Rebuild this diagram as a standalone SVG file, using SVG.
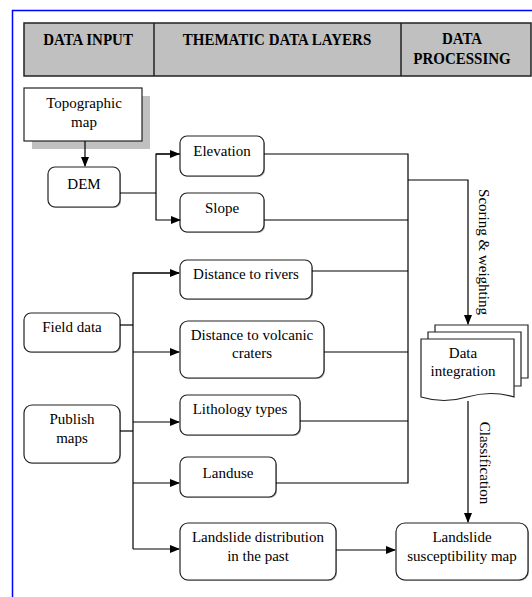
<svg xmlns="http://www.w3.org/2000/svg" width="532" height="597" viewBox="0 0 532 597">
<style>
.t{font-family:"Liberation Serif","Times New Roman",serif;font-size:15px;fill:#000;text-anchor:middle}
.h{font-family:"Liberation Serif","Times New Roman",serif;font-size:15px;font-weight:bold;fill:#000;text-anchor:middle}
.box{fill:#fff;stroke:#222;stroke-width:1.2}
.sh{fill:#b0b0b0}
.ln{fill:none;stroke:#000;stroke-width:1.2}
</style>
<defs>
<marker id="ah" markerWidth="10" markerHeight="8" refX="9" refY="4" orient="auto" markerUnits="userSpaceOnUse">
<path d="M0,0 L10,4 L0,8 Z" fill="#000"/>
</marker>
</defs>
<rect x="0" y="0" width="532" height="597" fill="#fff"/>
<path d="M12.5,597 V10.5 H532" fill="none" stroke="#0000ff" stroke-width="1.5"/>

<g id="header">
<rect x="24" y="23" width="507" height="53" fill="#c0c0c0" stroke="#222" stroke-width="1.5"/>
<line x1="154" y1="23" x2="154" y2="76" stroke="#222" stroke-width="1.5"/>
<line x1="401" y1="23" x2="401" y2="76" stroke="#222" stroke-width="1.5"/>
<text class="h" transform="translate(88,45) scale(1,1.12)">DATA INPUT</text>
<text class="h" transform="translate(277,45) scale(1,1.12)">THEMATIC DATA LAYERS</text>
<text class="h" transform="translate(462,44) scale(1,1.12)">DATA</text>
<text class="h" transform="translate(462,64) scale(1,1.12)">PROCESSING</text>
</g>

<g id="topographic">
<rect x="32" y="96" width="118" height="53" fill="#c0c0c0"/>
<rect x="24" y="88" width="118" height="53" fill="#fff" stroke="#222" stroke-width="1.2"/>
<text class="t" x="84" y="108">Topographic</text>
<text class="t" x="84" y="127">map</text>
</g>

<g id="dem">
<rect class="sh" x="49" y="168" width="72" height="40" rx="7"/>
<rect class="box" x="48" y="167" width="72" height="40" rx="7"/>
<text class="t" x="84" y="189">DEM</text>
</g>

<g id="elevation">
<rect class="sh" x="181" y="137" width="84" height="40" rx="7"/>
<rect class="box" x="180" y="136" width="84" height="40" rx="7"/>
<text class="t" x="222" y="156">Elevation</text>
</g>

<g id="slope">
<rect class="sh" x="181" y="194" width="84" height="39" rx="7"/>
<rect class="box" x="180" y="193" width="84" height="39" rx="7"/>
<text class="t" x="222" y="213">Slope</text>
</g>

<g id="rivers">
<rect class="sh" x="181" y="261" width="132" height="39" rx="7"/>
<rect class="box" x="180" y="260" width="132" height="39" rx="7"/>
<text class="t" x="246" y="279">Distance to rivers</text>
</g>

<g id="volcanic">
<rect class="sh" x="181" y="322" width="144" height="57" rx="8"/>
<rect class="box" x="180" y="321" width="144" height="57" rx="8"/>
<text class="t" x="252" y="340">Distance to volcanic</text>
<text class="t" x="252" y="358">craters</text>
</g>

<g id="lithology">
<rect class="sh" x="181" y="396" width="120" height="40" rx="7"/>
<rect class="box" x="180" y="395" width="120" height="40" rx="7"/>
<text class="t" x="240" y="414">Lithology types</text>
</g>

<g id="landuse">
<rect class="sh" x="181" y="458" width="96" height="40" rx="7"/>
<rect class="box" x="180" y="457" width="96" height="40" rx="7"/>
<text class="t" x="228" y="478">Landuse</text>
</g>

<g id="landslide-dist">
<rect class="sh" x="181" y="524" width="156" height="57" rx="8"/>
<rect class="box" x="180" y="523" width="156" height="57" rx="8"/>
<text class="t" x="258" y="542">Landslide distribution</text>
<text class="t" x="258" y="561">in the past</text>
</g>

<g id="field-data">
<rect class="sh" x="25" y="314" width="96" height="39" rx="7"/>
<rect class="box" x="24" y="313" width="96" height="39" rx="7"/>
<text class="t" x="72" y="332">Field data</text>
</g>

<g id="publish-maps">
<rect class="sh" x="25" y="406" width="96" height="58" rx="8"/>
<rect class="box" x="24" y="405" width="96" height="58" rx="8"/>
<text class="t" x="72" y="424">Publish</text>
<text class="t" x="72" y="443">maps</text>
</g>

<g id="data-integration">
<path class="box" d="M435,325 H528 V378 H435 Z"/>
<path class="box" d="M428,332 H521 V386 H428 Z"/>
<path class="box" d="M421,339 H514 V397 Q491,390 467,397 Q444,404 421,397 Z"/>
<text class="t" x="463" y="358">Data</text>
<text class="t" x="463" y="376">integration</text>
</g>

<g id="susceptibility">
<rect class="sh" x="397" y="524" width="132" height="57" rx="9"/>
<rect class="box" x="396" y="523" width="132" height="57" rx="9"/>
<text class="t" x="462" y="542">Landslide</text>
<text class="t" x="462" y="561">susceptibility map</text>
</g>

<g id="connectors">
<line class="ln" x1="85" y1="141" x2="85" y2="166" marker-end="url(#ah)"/>
<path class="ln" d="M120,193 H156"/>
<path class="ln" d="M180,154 H156 V220 H180" marker-end="url(#ah)"/>
<line class="ln" x1="156" y1="154" x2="179" y2="154" marker-end="url(#ah)"/>
<path class="ln" d="M120,325 H133"/>
<path class="ln" d="M120,431 H133"/>
<path class="ln" d="M179,273 H133 V549"/>
<line class="ln" x1="133" y1="273" x2="179" y2="273" marker-end="url(#ah)"/>
<line class="ln" x1="133" y1="352" x2="179" y2="352" marker-end="url(#ah)"/>
<line class="ln" x1="133" y1="422" x2="179" y2="422" marker-end="url(#ah)"/>
<line class="ln" x1="133" y1="483" x2="179" y2="483" marker-end="url(#ah)"/>
<line class="ln" x1="133" y1="549" x2="179" y2="549" marker-end="url(#ah)"/>
<path class="ln" d="M264,154 H408 V483 H276"/>
<line class="ln" x1="264" y1="220" x2="408" y2="220"/>
<line class="ln" x1="312" y1="271" x2="408" y2="271"/>
<line class="ln" x1="324" y1="352" x2="408" y2="352"/>
<line class="ln" x1="300" y1="421" x2="408" y2="421"/>
<path class="ln" d="M408,180 H468 V324" marker-end="url(#ah)"/>
<line class="ln" x1="468" y1="401" x2="468" y2="522" marker-end="url(#ah)"/>
<line class="ln" x1="336" y1="550" x2="395" y2="550" marker-end="url(#ah)"/>
<text class="t" transform="translate(479,252) rotate(90)">Scoring &amp; weighting</text>
<text class="t" transform="translate(480,463) rotate(90)">Classification</text>
</g>
</svg>
